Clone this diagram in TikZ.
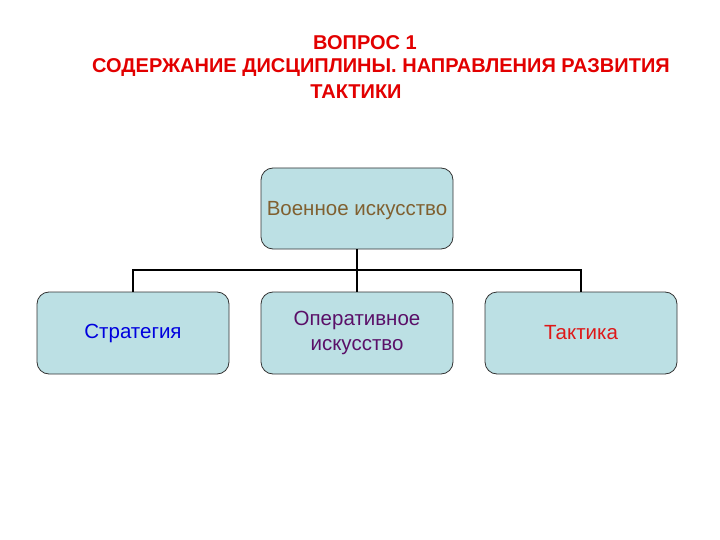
\documentclass[tikz,border=0pt]{standalone}
\usepackage{fontspec}
\setmainfont{Liberation Sans}
\definecolor{boxfill}{RGB}{188,224,228}
\definecolor{titlered}{RGB}{226,0,0}
\definecolor{textbrown}{RGB}{128,96,48}
\definecolor{textblue}{RGB}{0,0,222}
\definecolor{textpurple}{RGB}{90,16,104}
\definecolor{textred}{RGB}{222,24,24}
\tikzset{
  unitbox/.style={rectangle, draw=black!80, line width=0.8pt, fill=boxfill, rounded corners=12pt,
    minimum width=192pt, minimum height=82pt, inner sep=2pt, align=center, font=\fontsize{20.5}{25}\selectfont},
  titleline/.style={font=\fontsize{20}{24}\selectfont\bfseries, text=titlered},
  link/.style={draw=black, line width=1.8pt}
}
\begin{document}
\begin{tikzpicture}[x=1pt, y=-1pt]
      \useasboundingbox (0,0) rectangle (720,540);
      % Title
      \node[titleline] (titleA) at (365,43) {ВОПРОС 1};
      \node[titleline] (titleB) at (381,68) {СОДЕРЖАНИЕ ДИСЦИПЛИНЫ. НАПРАВЛЕНИЯ РАЗВИТИЯ};
      \node[titleline] (titleC) at (356,92) {ТАКТИКИ};

      % Nodes
      \node (art) at (357,208.5) [unitbox, minimum height=81pt, text depth=0pt, text=textbrown] {Военное искусство};
      \node (strat) at (133,333) [unitbox, text=textblue] {Стратегия};
      \node (oper) at (357,333) [unitbox, text=textpurple] {Оперативное\\ искусство};
      \node (tact) at (581,333) [unitbox, text=textred] {Тактика};
      \coordinate (bus) at (357,270);

      % Edges
      \draw[link] (art.south) -- (bus);
      \draw[link] (strat.north) |- (bus) -| (tact.north);
      \draw[link] (bus) -- (oper.north);
\end{tikzpicture}
\end{document}
